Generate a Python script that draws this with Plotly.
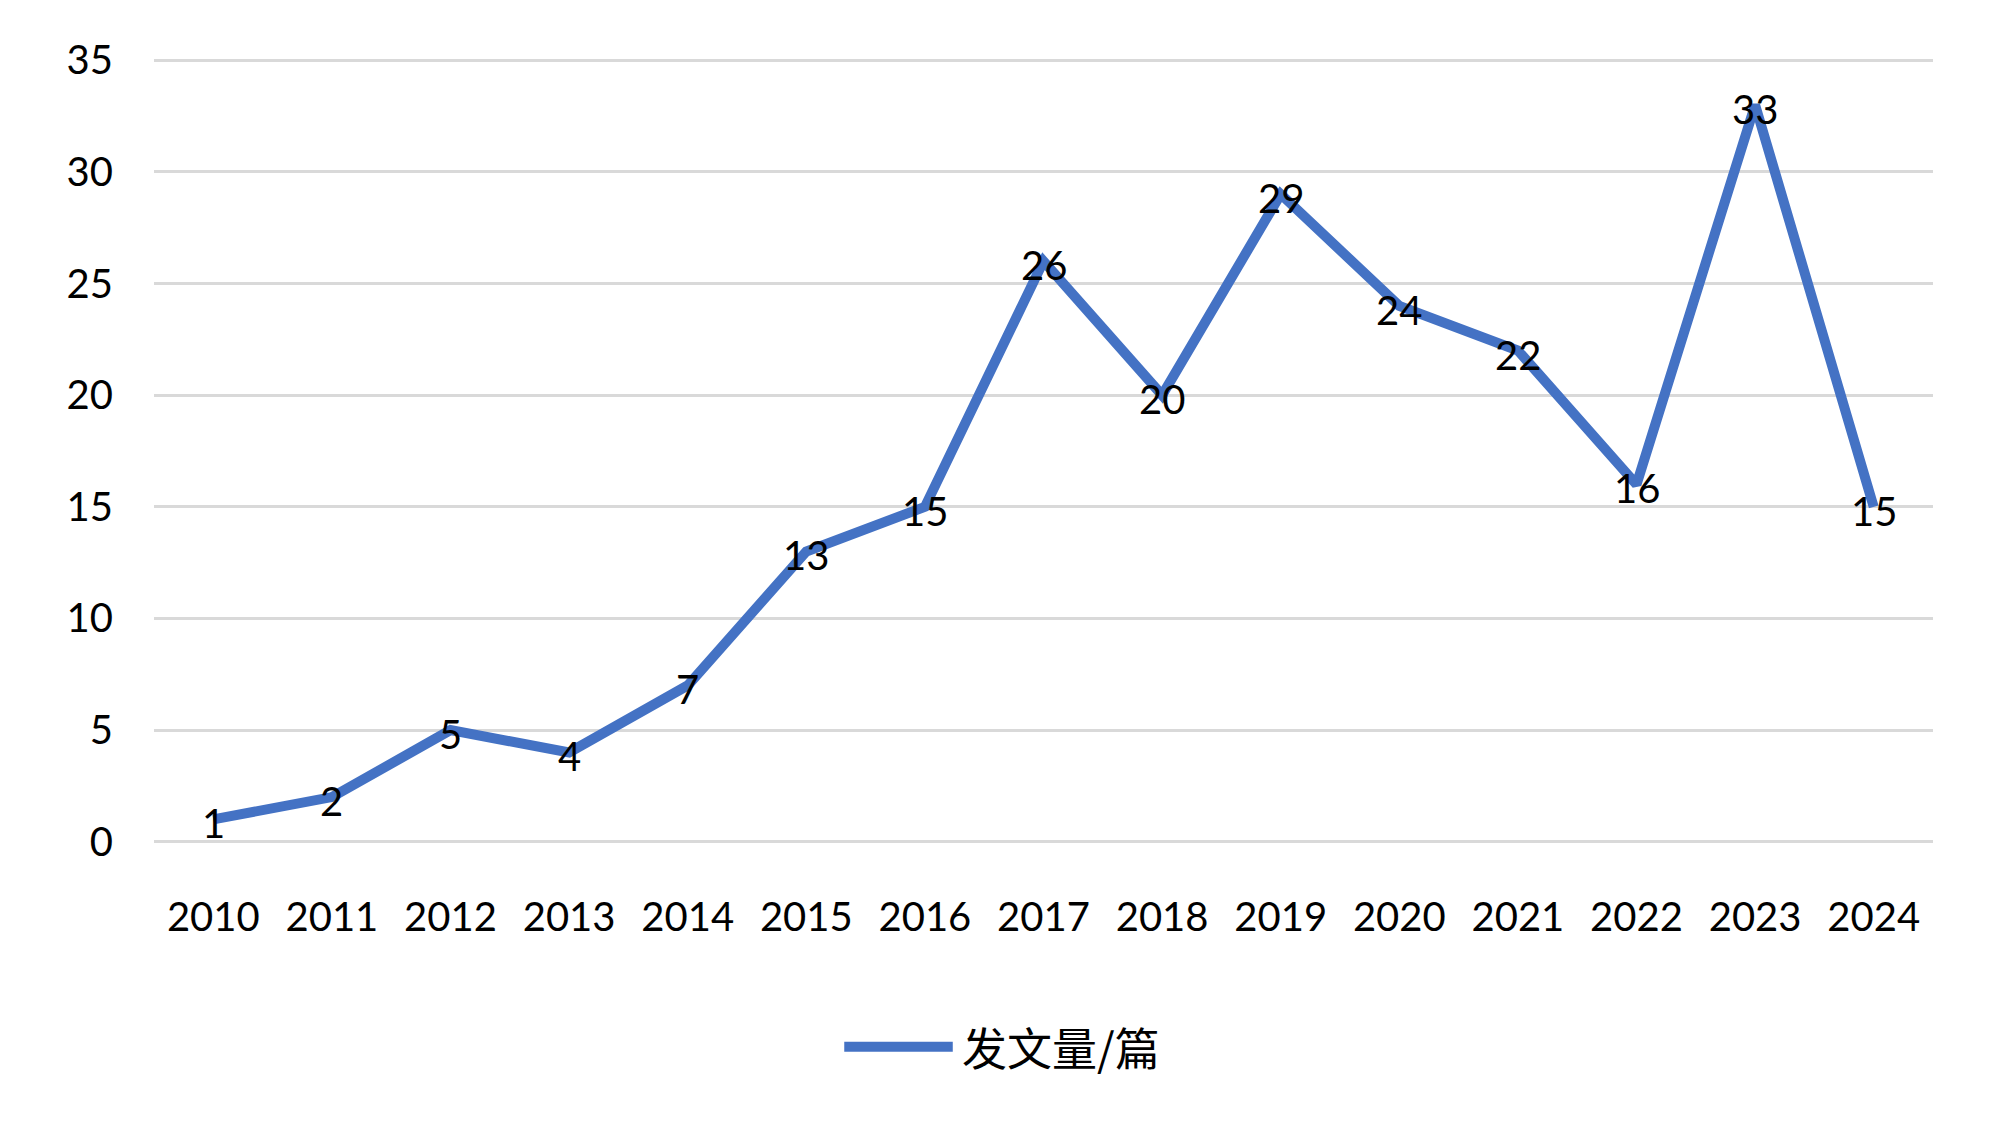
import plotly.graph_objects as go

years = ["2010", "2011", "2012", "2013", "2014", "2015", "2016", "2017",
         "2018", "2019", "2020", "2021", "2022", "2023", "2024"]
counts = [1, 2, 5, 4, 7, 13, 15, 26, 20, 29, 24, 22, 16, 33, 15]
series_name = "发文量/篇"
y_ticks = [0, 5, 10, 15, 20, 25, 30, 35]

color = "#4472C4"
font_family = "Lato, 'Open Sans', sans-serif"

fig = go.Figure()
fig.add_trace(go.Scatter(
    x=years, y=counts, mode="lines",
    line=dict(color=color, width=10),
    name=series_name, showlegend=False,
))

# data labels, centred on each point (x given as category index)
for i, v in enumerate(counts):
    fig.add_annotation(x=i, y=v, xref="x", yref="y", text=str(v),
                       showarrow=False, xanchor="center", yanchor="middle",
                       yshift=-4,
                       font=dict(family=font_family, size=40, color="black"))

fig.update_layout(
    width=2000, height=1130,
    margin=dict(l=146, r=75, t=50, b=294),
    paper_bgcolor="white", plot_bgcolor="white",
    xaxis=dict(type="category", range=[-0.5, len(years) - 0.5],
               showgrid=False, zeroline=False, showline=False, ticks="",
               automargin=False,
               tickfont=dict(family=font_family, size=40, color="black"),
               ticklabelstandoff=46),
    yaxis=dict(range=[-0.1, 35.1], tickvals=y_ticks, showgrid=True,
               gridcolor="#d9d9d9", gridwidth=2.5, zeroline=False,
               showline=False, ticks="", automargin=False,
               tickfont=dict(family=font_family, size=40, color="black"),
               ticklabelstandoff=40),
)

# custom legend
fig.add_shape(type="line", xref="paper", yref="paper",
              x0=0.388, x1=0.449, y0=-0.258, y1=-0.258,
              line=dict(color=color, width=10))
fig.add_annotation(xref="paper", yref="paper", x=0.453, y=-0.258,
                   xanchor="left", yanchor="middle", showarrow=False,
                   text=series_name,
                   font=dict(family="'Noto Sans CJK SC'", size=45, color="black"))

fig.write_html("out.html")
